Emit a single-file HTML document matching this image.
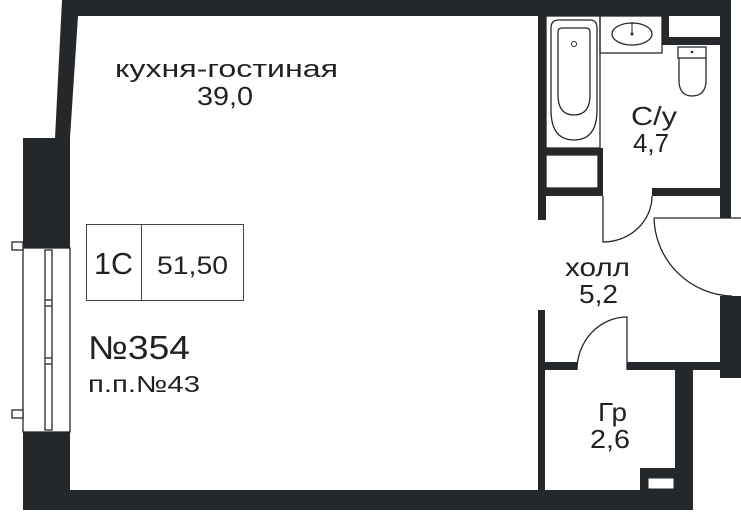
<!DOCTYPE html>
<html><head><meta charset="utf-8"><style>
html,body{margin:0;padding:0;background:#fff;width:741px;height:512px;overflow:hidden}
svg{display:block}
text{font-family:"Liberation Sans",sans-serif;fill:#1f2124}
</style></head><body>
<svg width="741" height="512" viewBox="0 0 741 512" xmlns="http://www.w3.org/2000/svg">
<g fill="#25282b">
<polygon points="62,0 731,0 731,16 78,16 70,138 70,248 23,248 23,138 55,138"/>
<rect x="23" y="432" width="47" height="78"/>
<rect x="23" y="490" width="670" height="20"/>
<rect x="720" y="0" width="11" height="218"/>
<rect x="538" y="16" width="8" height="204"/>
<rect x="546" y="148" width="54" height="7"/>
<rect x="598" y="148" width="5" height="48"/>
<rect x="546" y="188" width="57" height="8"/>
<rect x="652" y="188" width="70" height="8"/>
<rect x="662" y="16" width="7" height="29"/>
<rect x="662" y="37" width="58" height="8"/>
<rect x="720" y="296" width="21" height="82"/>
<rect x="627" y="362" width="114" height="8"/>
<rect x="675" y="362" width="18" height="148"/>
<rect x="538" y="310" width="7" height="200"/>
<rect x="545" y="362" width="32" height="8"/>
<rect x="640" y="468" width="35" height="22"/>
</g>
<rect x="648" y="478" width="26" height="11" fill="#fff" stroke="#25282b" stroke-width="1"/>
<g fill="#fff" stroke="#25282b" stroke-width="1.3">
<rect x="23" y="248" width="47" height="184"/>
<rect x="45" y="250" width="7" height="180"/>
<rect x="12" y="242" width="11" height="8"/>
<rect x="12" y="410" width="11" height="8"/>
<line x1="45" y1="300" x2="52" y2="300"/><line x1="45" y1="306" x2="52" y2="306"/>
<line x1="45" y1="358" x2="52" y2="358"/><line x1="45" y1="364" x2="52" y2="364"/>
</g>
<g fill="none" stroke="#25282b" stroke-width="1.3">
<rect x="546" y="16" width="54" height="132"/>
<path d="M551,28 Q551,20 559,20 L590,20 Q597,20 597,28 L597,110 Q597,140 574,140 Q551,140 551,110 Z"/>
<path d="M558,32 Q558,28 562,28 L586,28 Q590,28 590,32 L590,95 Q590,115 574,115 Q558,115 558,95 Z"/>
<rect x="546" y="155" width="52" height="33"/>
<rect x="600" y="16" width="62" height="37"/>
<ellipse cx="632" cy="34" rx="20" ry="11"/>
<rect x="678" y="47" width="28" height="11"/>
<path d="M679,58 L679,82 Q680,96 692,96 Q705,96 706,82 L706,58"/>
<path d="M603,196 L603,242 A49,46 0 0 0 652,196"/>
<path d="M654,218 L741,218"/>
<path d="M654,218 A80,80 0 0 0 732,296"/>
<path d="M627,370 L627,317 A50,53 0 0 0 577,370"/>
</g>
<circle cx="574" cy="44" r="2.5" fill="none" stroke="#25282b"/>
<line x1="632" y1="22" x2="632" y2="34" stroke="#25282b"/><circle cx="632" cy="34" r="1.5" fill="#25282b"/>
<circle cx="692" cy="52" r="1.3" fill="#25282b"/>
<g fill="none" stroke="#444" stroke-width="1">
<rect x="86.5" y="224.5" width="157" height="76"/>
<line x1="141.5" y1="224" x2="141.5" y2="301"/>
</g>
<text x="115" y="77" font-size="24" textLength="223" lengthAdjust="spacingAndGlyphs">кухня-гостиная</text>
<text x="197" y="105" font-size="26" textLength="56" lengthAdjust="spacingAndGlyphs">39,0</text>
<text x="94" y="274" font-size="31" textLength="39" lengthAdjust="spacingAndGlyphs">1С</text>
<text x="157" y="274" font-size="25" textLength="71" lengthAdjust="spacingAndGlyphs">51,50</text>
<text x="88" y="359" font-size="33" textLength="102" lengthAdjust="spacingAndGlyphs">№354</text>
<text x="88" y="392" font-size="23" textLength="112" lengthAdjust="spacingAndGlyphs">п.п.№43</text>
<text x="631" y="125" font-size="26" textLength="46" lengthAdjust="spacingAndGlyphs">С/у</text>
<text x="633" y="152" font-size="26" textLength="36" lengthAdjust="spacingAndGlyphs">4,7</text>
<text x="565" y="276" font-size="26" textLength="65" lengthAdjust="spacingAndGlyphs">холл</text>
<text x="579" y="303" font-size="26" textLength="39" lengthAdjust="spacingAndGlyphs">5,2</text>
<text x="598" y="421" font-size="26" textLength="29" lengthAdjust="spacingAndGlyphs">Гр</text>
<text x="590" y="448" font-size="26" textLength="40" lengthAdjust="spacingAndGlyphs">2,6</text>
</svg>
</body></html>
